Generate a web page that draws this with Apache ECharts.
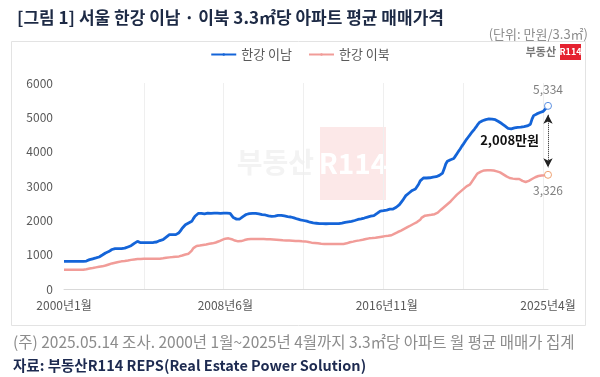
<!DOCTYPE html>
<html>
<head>
<meta charset="utf-8">
<script src="https://cdn.jsdelivr.net/npm/echarts@6/dist/echarts.min.js"></script>
<style>
  html, body { margin: 0; padding: 0; background: #fff; }
  #chart { width: 600px; height: 377px; }
</style>
</head>
<body>
<div id="chart"></div>
<script>
// 2000년1월 ~ 2025년4월, monthly (만원/3.3㎡)
const years = [2000, 2001, 2002, 2003, 2004, 2005, 2006, 2007, 2008, 2009, 2010, 2011, 2012,
  2013, 2014, 2015, 2016, 2017, 2018, 2019, 2020, 2021, 2022, 2023, 2024, 2025];
const lastMonth = 4;

// 한강 이남
const southValues = [
  804, 804, 804, 804, 804, 804, 804, 804, 804, 804, 804, 804,
  804, 806, 815, 840, 855, 865, 880, 895, 905, 915, 932, 950,
  990, 1020, 1050, 1066, 1090, 1120, 1150, 1174, 1174, 1174, 1174, 1174,
  1174, 1174, 1190, 1210, 1225, 1241, 1260, 1290, 1330, 1360, 1387, 1370,
  1349, 1350, 1350, 1350, 1350, 1350, 1350, 1350, 1355, 1360, 1369, 1390,
  1410, 1420, 1436, 1470, 1510, 1550, 1582, 1582, 1582, 1582, 1585, 1590,
  1640, 1700, 1770, 1824, 1870, 1900, 1922, 1940, 1970, 2050, 2120, 2164,
  2200, 2214, 2205, 2195, 2190, 2200, 2210, 2210, 2205, 2210, 2210, 2210,
  2210, 2210, 2205, 2210, 2210, 2205, 2210, 2210, 2205, 2150, 2080, 2039,
  2035, 2039, 2039, 2070, 2110, 2150, 2170, 2185, 2195, 2205, 2200, 2203,
  2200, 2195, 2185, 2175, 2165, 2160, 2156, 2145, 2130, 2120, 2115, 2115,
  2125, 2135, 2145, 2145, 2145, 2140, 2130, 2120, 2110, 2100, 2097, 2085,
  2070, 2055, 2040, 2030, 2015, 2005, 1995, 1990, 1975, 1960, 1945, 1935,
  1925, 1922, 1915, 1910, 1905, 1902, 1902, 1900, 1900, 1902, 1902, 1902,
  1902, 1903, 1905, 1902, 1902, 1910, 1920, 1930, 1940, 1950, 1955, 1962,
  1970, 1980, 1995, 2010, 2025, 2035, 2045, 2055, 2067, 2080, 2095, 2110,
  2120, 2130, 2135, 2160, 2200, 2240, 2270, 2281, 2281, 2290, 2300, 2315,
  2325, 2330, 2330, 2330, 2380, 2420, 2456, 2510, 2580, 2650, 2720, 2760,
  2796, 2830, 2870, 2900, 2913, 2950, 3050, 3150, 3200, 3233, 3233, 3233,
  3233, 3240, 3250, 3260, 3265, 3270, 3290, 3310, 3350, 3378, 3500, 3640,
  3720, 3760, 3766, 3766, 3800, 3870, 3940, 4010, 4080, 4154, 4220, 4290,
  4360, 4420, 4480, 4544, 4600, 4660, 4720, 4790, 4850, 4883, 4900, 4920,
  4935, 4945, 4952, 4955, 4950, 4940, 4932, 4910, 4880, 4850, 4820, 4786,
  4750, 4710, 4680, 4661, 4665, 4675, 4690, 4700, 4705, 4708, 4712, 4720,
  4730, 4740, 4750, 4757, 4800, 4950, 5050, 5077, 5100, 5120, 5140, 5160,
  5174, 5230, 5280, 5334
];

// 한강 이북
const northValues = [
  562, 562, 562, 562, 562, 562, 562, 562, 562, 562, 562, 562,
  562, 565, 575, 585, 595, 605, 611, 620, 630, 640, 648, 655,
  660, 670, 685, 700, 715, 730, 745, 757, 765, 775, 785, 795,
  805, 812, 818, 825, 832, 840, 848, 855, 862, 868, 872, 874,
  876, 878, 880, 881, 882, 883, 883, 883, 883, 883, 883, 883,
  883, 888, 895, 902, 910, 916, 921, 925, 930, 935, 940, 945,
  950, 960, 975, 990, 1005, 1018, 1028, 1050, 1120, 1190, 1235, 1255,
  1261, 1268, 1275, 1283, 1290, 1298, 1305, 1315, 1322, 1330, 1340, 1355,
  1370, 1390, 1410, 1430, 1450, 1465, 1475, 1475, 1470, 1450, 1430, 1410,
  1395, 1388, 1387, 1395, 1410, 1425, 1440, 1450, 1456, 1456, 1456, 1456,
  1456, 1456, 1456, 1456, 1456, 1456, 1456, 1452, 1450, 1448, 1445, 1442,
  1440, 1436, 1432, 1428, 1422, 1418, 1416, 1415, 1412, 1410, 1408, 1405,
  1402, 1400, 1398, 1395, 1392, 1390, 1388, 1387, 1380, 1370, 1360, 1350,
  1345, 1340, 1335, 1330, 1325, 1320, 1316, 1313, 1311, 1311, 1311, 1311,
  1311, 1311, 1311, 1311, 1311, 1311, 1311, 1311, 1320, 1330, 1345, 1360,
  1370, 1380, 1392, 1402, 1410, 1416, 1425, 1435, 1445, 1455, 1465, 1475,
  1480, 1483, 1485, 1492, 1500, 1508, 1516, 1524, 1532, 1540, 1546, 1550,
  1553, 1565, 1590, 1615, 1640, 1660, 1679, 1700, 1725, 1750, 1775, 1800,
  1824, 1850, 1875, 1900, 1925, 1950, 1970, 2020, 2080, 2110, 2135, 2145,
  2150, 2155, 2160, 2164, 2180, 2200, 2225, 2270, 2310, 2350, 2390, 2430,
  2470, 2505, 2550, 2600, 2650, 2700, 2750, 2796, 2830, 2870, 2910, 2950,
  2990, 3015, 3038, 3100, 3170, 3240, 3310, 3370, 3397, 3420, 3440, 3455,
  3460, 3460, 3460, 3458, 3455, 3450, 3440, 3425, 3410, 3397, 3370, 3340,
  3310, 3280, 3255, 3233, 3225, 3215, 3210, 3205, 3204, 3204, 3180, 3150,
  3130, 3117, 3120, 3150, 3180, 3204, 3230, 3255, 3275, 3290, 3300, 3305,
  3310, 3315, 3320, 3326
];

const labelMonths = ['2000년1월', '2008년6월', '2016년11월', '2025년4월'];

const categories = [];
years.forEach((y) => {
  const n = y === 2025 ? lastMonth : 12;
  for (let m = 1; m <= n; m++) categories.push(y + '년' + m + '월');
});

const FONT = '"Noto Sans CJK KR", "Noto Sans", sans-serif';
const last = categories.length - 1;
const southLast = southValues[last];
const northLast = northValues[last];
const gap = southLast - northLast;

const chart = echarts.init(document.getElementById('chart'));

chart.setOption({
  animation: false,
  textStyle: { fontFamily: FONT },
  title: {
    text: '[그림 1] 서울 한강 이남 · 이북 3.3㎡당 아파트 평균 매매가격',
    left: 12,
    top: 4,
    textStyle: { fontSize: 17, fontWeight: 'bold', color: '#1d2a45', fontFamily: FONT }
  },
  legend: {
    top: 43,
    left: 'center',
    itemWidth: 25,
    itemHeight: 3,
    itemGap: 16,
    textStyle: { fontSize: 13, color: '#595959', fontFamily: FONT },
    data: ['한강 이남', '한강 이북']
  },
  grid: { left: 64, right: 52, top: 83, bottom: 88, containLabel: false },
  xAxis: {
    type: 'category',
    boundaryGap: false,
    data: categories,
    axisLine: { lineStyle: { color: '#d9d9d9' } },
    axisTick: { show: false },
    axisLabel: {
      interval: (i, v) => labelMonths.indexOf(v) >= 0,
      color: '#595959',
      fontSize: 12,
      margin: 10,
      fontFamily: FONT
    },
    splitLine: {
      show: true,
      interval: (i) => i % 50 === 0 && i > 0,
      lineStyle: { color: '#efefef' }
    }
  },
  yAxis: {
    type: 'value',
    min: 0,
    max: 6000,
    interval: 1000,
    axisLine: { show: false },
    axisTick: { show: false },
    splitLine: { show: false },
    axisLabel: { color: '#595959', fontSize: 12, margin: 11, fontFamily: FONT,
      formatter: (v) => String(v) }
  },
  graphic: [
    { type: 'rect', shape: { x: 11.5, y: 41.5, width: 574, height: 284 },
      style: { fill: 'none', stroke: '#e3e3e3', lineWidth: 1 }, z: -10 },
    { type: 'text', x: 588, y: 34,
      style: { text: '(단위: 만원/3.3㎡)', fill: '#8c8c8c', font: '13px ' + FONT,
        textAlign: 'right', textVerticalAlign: 'middle' } },
    // logo
    { type: 'text', x: 556, y: 52,
      style: { text: '부동산', fill: '#777', font: 'bold 11px ' + FONT,
        textAlign: 'right', textVerticalAlign: 'middle' } },
    { type: 'rect', shape: { x: 560, y: 44, width: 21, height: 16 }, style: { fill: '#e52230' } },
    { type: 'text', x: 570.5, y: 52,
      style: { text: 'R114', fill: '#fff', font: 'bold 9px ' + FONT,
        textAlign: 'center', textVerticalAlign: 'middle' } },
    // watermark
    { type: 'text', x: 314, y: 162, z: -5,
      style: { text: '부동산', fill: '#f3f3f3', font: 'bold 28px ' + FONT,
        textAlign: 'right', textVerticalAlign: 'middle' } },
    { type: 'rect', z: -5, shape: { x: 320, y: 127, width: 66, height: 73 },
      style: { fill: '#fce8e8' } },
    { type: 'text', x: 353, y: 163, z: -4,
      style: { text: 'R114', fill: '#ffffff', font: 'bold 28px ' + FONT,
        textAlign: 'center', textVerticalAlign: 'middle' } },
    // footnotes
    { type: 'text', x: 13, y: 342,
      style: { text: '(주) 2025.05.14 조사. 2000년 1월~2025년 4월까지 3.3㎡당 아파트 월 평균 매매가 집계',
        fill: '#8c8c8c', font: '15.5px ' + FONT, textVerticalAlign: 'middle' } },
    { type: 'text', x: 13, y: 365,
      style: { text: '자료: 부동산R114 REPS(Real Estate Power Solution)',
        fill: '#1d2a50', font: 'bold 14.5px ' + FONT, textVerticalAlign: 'middle' } }
  ],
  series: [
    {
      name: '한강 이남',
      type: 'line',
      data: southValues,
      symbol: 'none',
      color: '#1464d8',
      lineStyle: { width: 2.8, color: '#1464d8' },
      z: 3,
      markPoint: {
        symbol: 'circle',
        symbolSize: 7,
        itemStyle: { color: '#fff', borderColor: '#5b8fe0', borderWidth: 1 },
        label: {
          show: true, position: 'top', distance: 6, color: '#7f7f7f', fontSize: 12,
          fontFamily: FONT, formatter: () => southLast.toLocaleString('en-US')
        },
        data: [{ coord: [categories[last], southLast] }]
      },
      markLine: {
        silent: true,
        symbol: ['arrow', 'arrow'],
        symbolSize: [7, 9],
        lineStyle: { type: 'dotted', color: '#222', width: 1 },
        label: { show: false },
        data: [[
          { coord: [categories[last], southLast - 260] },
          { coord: [categories[last], northLast + 220] }
        ]]
      }
    },
    {
      name: '한강 이북',
      type: 'line',
      data: northValues,
      symbol: 'none',
      color: '#f19c98',
      lineStyle: { width: 2.5, color: '#f19c98' },
      markPoint: {
        symbol: 'circle',
        symbolSize: 7,
        itemStyle: { color: '#fff', borderColor: '#eea070', borderWidth: 1 },
        label: {
          show: true, position: 'bottom', distance: 6, color: '#7f7f7f', fontSize: 12,
          fontFamily: FONT, formatter: () => northLast.toLocaleString('en-US')
        },
        data: [
          { coord: [categories[last], northLast] },
          {
            coord: [categories[last], (southLast + northLast) / 2],
            symbolSize: 0,
            label: {
              position: 'left', distance: 8, color: '#111', fontWeight: 'bold', fontSize: 13,
              backgroundColor: '#fff', padding: [1, 1],
              formatter: () => gap.toLocaleString('en-US') + '만원'
            }
          }
        ]
      }
    }
  ]
});
</script>
</body>
</html>
